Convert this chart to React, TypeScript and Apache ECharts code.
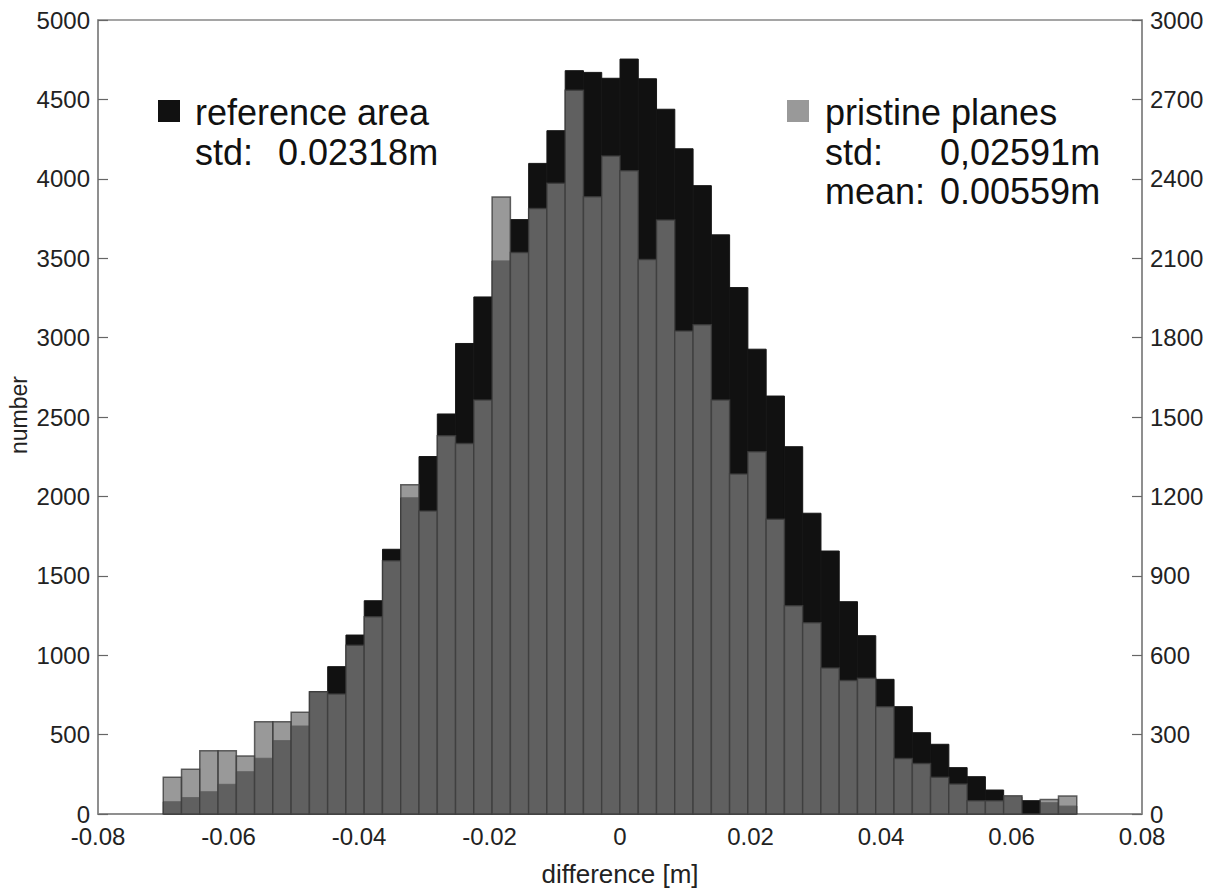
import React, { useEffect, useRef } from "react";
import * as echarts from "echarts";

// Histogram definition: 50 bins of width 0.0028 m from -0.07 to 0.07
const BIN_START = -0.07;
const BIN_WIDTH = 0.0028;

// reference area counts (left axis)
const referenceArea = [
  77, 103, 140, 187, 266, 351, 462, 554, 770, 928,
  1127, 1343, 1667, 1991, 2251, 2519, 2963, 3256, 3483, 3743,
  4097, 4303, 4681, 4670, 4633, 4754, 4630, 4438, 4189, 3957,
  3647, 3315, 2927, 2632, 2313, 1894, 1656, 1337, 1123, 848,
  676, 512, 439, 292, 235, 151, 110, 84, 71, 50,
];

// pristine planes counts (right axis)
const pristinePlanes = [
  139, 169, 239, 239, 219, 349, 349, 384, 462, 453,
  638, 745, 957, 1244, 1145, 1429, 1400, 1564, 2331, 2122,
  2288, 2383, 2735, 2332, 2486, 2430, 2095, 2244, 1825, 1849,
  1564, 1285, 1369, 1114, 787, 723, 552, 504, 513, 405,
  210, 191, 139, 113, 50, 50, 69, 0, 55, 68,
];

const binCenters = referenceArea.map((_, i) => BIN_START + BIN_WIDTH * (i + 0.5));

const leftTicks = { min: 0, max: 5000, interval: 500 };
const rightTicks = { min: 0, max: 3000, interval: 300 };
const xTicks = { min: -0.08, max: 0.08, interval: 0.02 };

const FONT = "'Liberation Sans', Arial, Helvetica, sans-serif";

function makeRender(fill: string, stroke: string, lineWidth: number) {
  return (params: any, api: any) => {
    const c = api.value(0);
    const v = api.value(1);
    const p0 = api.coord([c - BIN_WIDTH / 2, v]);
    const p1 = api.coord([c + BIN_WIDTH / 2, 0]);
    return {
      type: "rect",
      shape: { x: p0[0], y: p0[1], width: p1[0] - p0[0], height: p1[1] - p0[1] },
      style: { fill, stroke, lineWidth },
    };
  };
}

export default function App() {
  const ref = useRef<HTMLDivElement>(null);
  useEffect(() => {
    if (!ref.current) return;
    const chart = echarts.init(ref.current, undefined, { renderer: "svg" });
    const axisLabelStyle = { fontSize: 24, color: "#222", fontFamily: FONT };
    const plain = (v: number) => String(Math.round(v));
    chart.setOption({
      animation: false,
      backgroundColor: "#fff",
      grid: {
        left: 98,
        right: 73,
        top: 20,
        bottom: 80,
        show: true,
        borderColor: "#888",
        borderWidth: 1.5,
        backgroundColor: "transparent",
      },
      xAxis: {
        type: "value",
        min: xTicks.min,
        max: xTicks.max,
        interval: xTicks.interval,
        axisLine: { show: true, onZero: false, lineStyle: { color: "#888", width: 1.5 } },
        axisTick: { show: false },
        splitLine: { show: false },
        axisLabel: {
          ...axisLabelStyle,
          margin: 10,
          formatter: (v: number) => (Math.abs(v) < 1e-9 ? "0" : v.toFixed(2)),
        },
        name: "difference [m]",
        nameLocation: "middle",
        nameGap: 47,
        nameTextStyle: { fontSize: 26, color: "#222", fontFamily: FONT },
      },
      yAxis: [
        {
          type: "value",
          position: "left",
          min: leftTicks.min,
          max: leftTicks.max,
          interval: leftTicks.interval,
          axisLine: { show: true, onZero: false, lineStyle: { color: "#888", width: 1.5 } },
          axisTick: { show: true, inside: true, length: 10, lineStyle: { color: "#666", width: 1.2 } },
          splitLine: { show: false },
          axisLabel: { ...axisLabelStyle, margin: 8, formatter: plain },
        },
        {
          type: "value",
          position: "right",
          min: rightTicks.min,
          max: rightTicks.max,
          interval: rightTicks.interval,
          axisLine: { show: true, onZero: false, lineStyle: { color: "#888", width: 1.5 } },
          axisTick: { show: true, inside: true, length: 10, lineStyle: { color: "#666", width: 1.2 } },
          splitLine: { show: false },
          axisLabel: { ...axisLabelStyle, margin: 8, formatter: plain },
        },
      ],
      series: [
        {
          name: "reference area",
          type: "custom",
          xAxisIndex: 0,
          yAxisIndex: 0,
          renderItem: makeRender("#111111", "#161616", 1),
          encode: { x: 0, y: 1 },
          data: binCenters.map((c, i) => [c, referenceArea[i]]),
        },
        {
          name: "pristine planes",
          type: "custom",
          xAxisIndex: 0,
          yAxisIndex: 1,
          renderItem: makeRender("rgba(121,121,121,0.76)", "rgba(60,60,60,0.8)", 1.5),
          encode: { x: 0, y: 1 },
          data: binCenters.map((c, i) => [c, pristinePlanes[i]]),
        },
      ],
      graphic: [
        {
          type: "text",
          x: 19,
          y: 415,
          rotation: Math.PI / 2,
          style: {
            text: "number",
            fontSize: 23,
            fontFamily: FONT,
            fill: "#222",
            align: "center",
            verticalAlign: "middle",
          },
        },
        { type: "rect", left: 158, top: 100, shape: { width: 22, height: 22 }, style: { fill: "#111" } },
        {
          type: "text",
          x: 195,
          y: 112,
          style: { text: "reference area", fontSize: 36, fontFamily: FONT, fill: "#111", verticalAlign: "middle" },
        },
        {
          type: "text",
          x: 195,
          y: 152,
          style: { text: "std:", fontSize: 36, fontFamily: FONT, fill: "#111", verticalAlign: "middle" },
        },
        {
          type: "text",
          x: 278,
          y: 152,
          style: { text: "0.02318m", fontSize: 36, fontFamily: FONT, fill: "#111", verticalAlign: "middle" },
        },
        { type: "rect", left: 787, top: 100, shape: { width: 22, height: 22 }, style: { fill: "#999" } },
        {
          type: "text",
          x: 825,
          y: 112,
          style: { text: "pristine planes", fontSize: 36, fontFamily: FONT, fill: "#111", verticalAlign: "middle" },
        },
        {
          type: "text",
          x: 825,
          y: 152,
          style: { text: "std:", fontSize: 36, fontFamily: FONT, fill: "#111", verticalAlign: "middle" },
        },
        {
          type: "text",
          x: 940,
          y: 152,
          style: { text: "0,02591m", fontSize: 36, fontFamily: FONT, fill: "#111", verticalAlign: "middle" },
        },
        {
          type: "text",
          x: 825,
          y: 191,
          style: { text: "mean:", fontSize: 36, fontFamily: FONT, fill: "#111", verticalAlign: "middle" },
        },
        {
          type: "text",
          x: 940,
          y: 191,
          style: { text: "0.00559m", fontSize: 36, fontFamily: FONT, fill: "#111", verticalAlign: "middle" },
        },
      ],
    });
    return () => chart.dispose();
  }, []);
  return (
    <div
      ref={ref}
      style={{ position: "fixed", left: 0, top: 0, width: 1215, height: 894, background: "#fff" }}
    />
  );
}
